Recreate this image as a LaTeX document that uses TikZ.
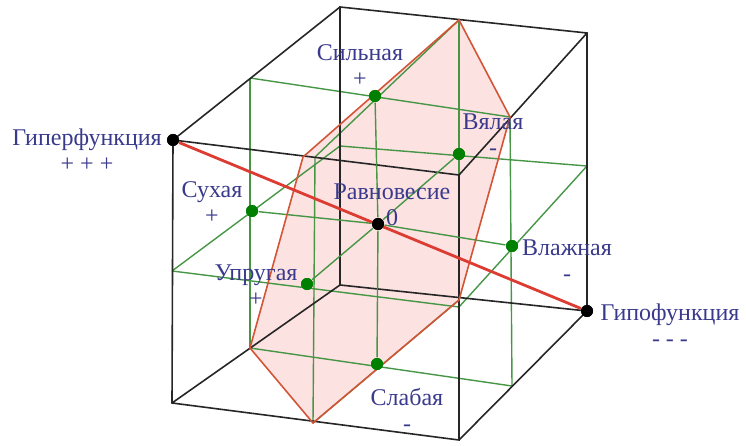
\documentclass[tikz,border=0pt]{standalone}
\usepackage{fontspec}
\setmainfont{Liberation Serif}
\definecolor{lblue}{RGB}{58,58,140}
\definecolor{gline}{RGB}{70,150,70}
\definecolor{gdotc}{RGB}{0,128,0}
\definecolor{redl}{RGB}{220,60,50}
\definecolor{hexl}{RGB}{210,85,55}
\definecolor{pinkf}{RGB}{253,226,226}
\begin{document}
\begin{tikzpicture}[x=1pt,y=-1pt,line width=1.4pt,
  lbl/.style={text=lblue,font=\fontsize{24}{26}\selectfont,align=center,inner sep=0pt},
  gdot/.style={circle,fill=gdotc,inner sep=0pt,minimum size=12pt},
  bdot/.style={circle,fill=black,inner sep=0pt,minimum size=12pt}]
\useasboundingbox (0,0) rectangle (746,446);
% cube corners
\coordinate (ftl) at (173,140); \coordinate (ftr) at (459,175);
\coordinate (fbl) at (172,403); \coordinate (fbr) at (459,440);
\coordinate (btl) at (340,7);   \coordinate (btr) at (587,33);
\coordinate (bbl) at (340,285); \coordinate (bbr) at (587,311);
% edge midpoints
\coordinate (tf) at (315,157); \coordinate (tb) at (459,20);
\coordinate (tl) at (250,78);  \coordinate (tr) at (510,117);
\coordinate (bf) at (313,423); \coordinate (bb) at (459,300);
\coordinate (bl) at (250,348); \coordinate (br) at (512,386);
\coordinate (fl) at (172,271); \coordinate (fr) at (459,307);
\coordinate (kl) at (340,146); \coordinate (kr) at (587,166);
\coordinate (hx) at (303,157);
% section
\fill[pinkf] (hx) -- (tb) -- (tr) -- (bb) -- (bf) -- (bl) -- cycle;
% face midlines
\foreach \a/\b in {tl/tr,tf/tb,bl/br,bf/bb,fl/fr,tf/bf,kl/kr,tb/bb,tl/bl,fl/kl,tr/br,fr/kr}
  \draw[gline] (\a) -- (\b);
% cube
\draw[black!85,line width=1.6pt] (ftl) -- (ftr) -- (fbr) -- (fbl) -- cycle
  (btl) -- (btr) -- (bbr) -- (bbl) -- cycle
  (ftl) -- (btl) (ftr) -- (btr) (fbr) -- (bbr) (fbl) -- (bbl);
% points
\node[bdot] (hyper) at (ftl) {};
\node[bdot] (hypo) at (bbr) {};
\node[bdot] (eq) at (378,224) {};
\node[gdot] (sil) at (375,96) {};
\node[gdot] (sla) at (377,364) {};
\node[gdot] (suh) at (252,211) {};
\node[gdot] (vlz) at (512,246) {};
\node[gdot] (upr) at (307,284) {};
\node[gdot] (vya) at (459,154) {};
% axes
\foreach \a/\b in {sil/sla,suh/vlz,upr/vya}
  \draw[gline] (\a) -- (eq) -- (\b);
\draw[hexl,line width=1.6pt] (hx) -- (tb) -- (tr) -- (bb) -- (bf) -- (bl) -- cycle;
\draw[redl,line width=2.8pt] (hyper) -- (hypo);
\foreach \n in {hyper,hypo,eq} \node[bdot] at (\n) {};
\foreach \n in {sil,sla,suh,vlz,upr,vya} \node[gdot] at (\n) {};
% labels
\node[lbl] (thyper) at (87,150) {Гиперфункция\\+ + +};
\node[lbl] (tsil) at (360,66) {Сильная\\+};
\node[lbl] (teq) at (392,205) {Равновесие\\0};
\node[lbl] (thypo) at (670,325) {Гипофункция\\- - -};
\node[lbl] (tsla) at (407,410) {Слабая\\-};
\node[lbl] (tupr) at (256,286) {Упругая\\+};
\node[lbl] (tvya) at (493,135) {Вялая\\-};
\node[lbl] (tvlz) at (567,261) {Влажная\\-};
\node[lbl] (tsuh) at (212,203) {Сухая\\+};
\end{tikzpicture}
\end{document}
